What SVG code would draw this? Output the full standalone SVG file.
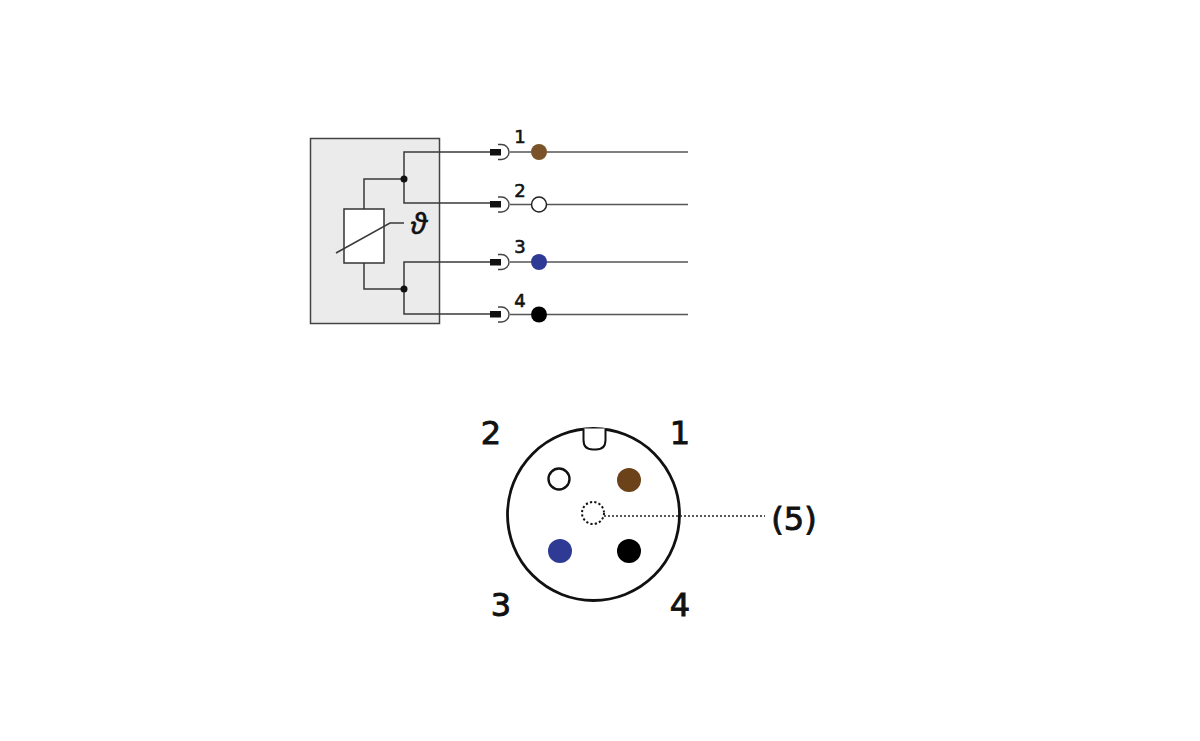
<svg xmlns="http://www.w3.org/2000/svg" width="1200" height="741" viewBox="0 0 1200 741">
<style>
.w{fill:none;stroke:#3a3a3a;stroke-width:1.5}
.lead{fill:none;stroke:#555;stroke-width:1.5}
.dot{fill:#111;stroke:none}
.plug{fill:#111;stroke:none}
.sock{fill:none;stroke:#444;stroke-width:1.4}
.sm{font-family:"DejaVu Sans",sans-serif;font-size:18px;fill:#111;text-anchor:middle;stroke:#111;stroke-width:.6}
.lg{font-family:"DejaVu Sans",sans-serif;font-size:32px;fill:#111;text-anchor:middle;stroke:#111;stroke-width:.9}
</style>
<rect width="1200" height="741" fill="#fff"/>
<g id="housing"><rect x="310.5" y="138.5" width="129" height="185" fill="#ebebeb" stroke="#444" stroke-width="1.5"/></g>
<g id="connectors">
<path class="w" d="M404 179V152H490M404 179V203H490M404 289V262H490M404 289V314H490M364 209V179H404M364 263V289H404"/>
<path class="lead" d="M510 152H688M510 204.500H688M510 262H688M510 314.500H688"/>
</g>
<g id="sensor">
<rect x="344" y="209" width="40" height="54" fill="#fff" stroke="#333" stroke-width="1.500"/>
<path class="w" d="M336 253L390 223H404"/>
<text x="419" y="234" font-family="'Noto Sans',sans-serif" font-style="italic" font-size="29" fill="#111" stroke="#111" stroke-width=".5" text-anchor="middle">ϑ</text>
<circle class="dot" cx="404" cy="179" r="3.500"/>
<circle class="dot" cx="404" cy="289" r="3.500"/>
</g>
<g id="terminal-1">
<rect class="plug" x="490" y="149" width="11" height="6.500"/>
<path class="sock" d="M498 144.500H501.500A7.500 7.500 0 0 1 501.500 159.500H498"/>
<text class="sm" x="520" y="143">1</text>
<circle cx="539" cy="152" r="8" fill="#7a5428"/>
</g>
<g id="terminal-2">
<rect class="plug" x="490" y="201" width="11" height="6.500"/>
<path class="sock" d="M498 197H501.500A7.500 7.500 0 0 1 501.500 212H498"/>
<text class="sm" x="520" y="197">2</text>
<circle cx="539" cy="204.500" r="7.500" fill="#fff" stroke="#222" stroke-width="1.500"/>
</g>
<g id="terminal-3">
<rect class="plug" x="490" y="259" width="11" height="6.500"/>
<path class="sock" d="M498 254.500H501.500A7.500 7.500 0 0 1 501.500 269.500H498"/>
<text class="sm" x="520" y="253">3</text>
<circle cx="539" cy="262" r="8" fill="#2e3a94"/>
</g>
<g id="terminal-4">
<rect class="plug" x="490" y="311" width="11" height="6.500"/>
<path class="sock" d="M498 307H501.500A7.500 7.500 0 0 1 501.500 322H498"/>
<text class="sm" x="520" y="307">4</text>
<circle cx="539" cy="314.500" r="8" fill="#000"/>
</g>
<g id="connector-face">
<circle cx="593.500" cy="514.500" r="86" fill="#fff" stroke="#111" stroke-width="2.800"/>
<path d="M583.500 428.500V440Q583.500 449.500 593 449.500H596Q605.500 449.500 605.500 440V428.500" fill="#fff" stroke="#111" stroke-width="2"/>
<circle cx="559" cy="479" r="10.500" fill="#fff" stroke="#111" stroke-width="2.400"/>
<circle cx="629" cy="480" r="12" fill="#6b421a"/>
<circle cx="560" cy="551" r="12" fill="#2e3a94"/>
<circle cx="629" cy="551" r="12" fill="#000"/>
<circle cx="593" cy="513" r="11" fill="#fff" stroke="#111" stroke-width="2" stroke-dasharray="2.200 2.200"/>
<path d="M604 516H765" stroke="#222" stroke-width="1.400" stroke-dasharray="2 2" fill="none"/>
</g>
<g id="labels">
<text class="lg" x="491" y="444">2</text>
<text class="lg" x="680" y="444">1</text>
<text class="lg" x="501" y="616">3</text>
<text class="lg" x="680" y="616">4</text>
<text class="lg" x="794" y="530">(5)</text>
</g>
</svg>
